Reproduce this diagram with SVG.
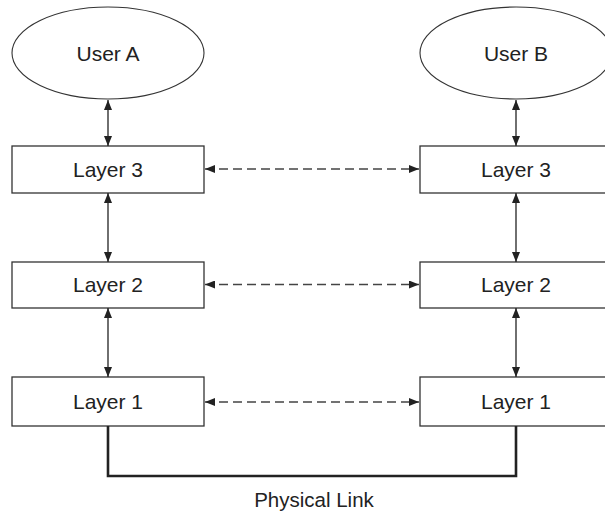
<svg xmlns="http://www.w3.org/2000/svg" width="605" height="513" viewBox="0 0 605 513">
<style>
.box{fill:#fff;stroke:#333;stroke-width:1.3}
.ell{fill:#fff;stroke:#333;stroke-width:1.1}
.lbl{font-family:"Liberation Sans",Arial,sans-serif;font-size:21px;fill:#222;text-anchor:middle}
.solid{stroke:#222;stroke-width:1.3;fill:none}
.dash{stroke:#444;stroke-width:1.4;fill:none;stroke-dasharray:9 5}
.phys{stroke:#222;stroke-width:2.6;fill:none}
</style>
<defs>
<marker id="ah" viewBox="0 0 10 8" refX="10" refY="4" markerWidth="10" markerHeight="8" markerUnits="userSpaceOnUse" orient="auto-start-reverse">
<path d="M0,0 L10,4 L0,8 Z" fill="#222"/>
</marker>
</defs>
<g id="userA"><ellipse class="ell" cx="108" cy="53" rx="96" ry="46"/><text class="lbl" x="108" y="61">User A</text></g>
<g id="userB"><ellipse class="ell" cx="516" cy="53" rx="96" ry="46"/><text class="lbl" x="516" y="61">User B</text></g>
<g id="a3"><rect class="box" x="12" y="146" width="192" height="47"/><text class="lbl" x="108" y="177">Layer 3</text></g>
<g id="b3"><rect class="box" x="420" y="146" width="192" height="47"/><text class="lbl" x="516" y="177">Layer 3</text></g>
<g id="a2"><rect class="box" x="12" y="262" width="192" height="46"/><text class="lbl" x="108" y="292">Layer 2</text></g>
<g id="b2"><rect class="box" x="420" y="262" width="192" height="46"/><text class="lbl" x="516" y="292">Layer 2</text></g>
<g id="a1"><rect class="box" x="12" y="377" width="192" height="49"/><text class="lbl" x="108" y="409">Layer 1</text></g>
<g id="b1"><rect class="box" x="420" y="377" width="192" height="49"/><text class="lbl" x="516" y="409">Layer 1</text></g>
<g id="connectors">
<line class="solid" x1="108" y1="100" x2="108" y2="146" marker-start="url(#ah)" marker-end="url(#ah)"/>
<line class="solid" x1="516" y1="100" x2="516" y2="146" marker-start="url(#ah)" marker-end="url(#ah)"/>
<line class="solid" x1="108" y1="193" x2="108" y2="262" marker-start="url(#ah)" marker-end="url(#ah)"/>
<line class="solid" x1="516" y1="193" x2="516" y2="262" marker-start="url(#ah)" marker-end="url(#ah)"/>
<line class="solid" x1="108" y1="308" x2="108" y2="377" marker-start="url(#ah)" marker-end="url(#ah)"/>
<line class="solid" x1="516" y1="308" x2="516" y2="377" marker-start="url(#ah)" marker-end="url(#ah)"/>
<line class="dash" x1="205" y1="169" x2="419" y2="169" marker-start="url(#ah)" marker-end="url(#ah)"/>
<line class="dash" x1="205" y1="284.5" x2="419" y2="284.5" marker-start="url(#ah)" marker-end="url(#ah)"/>
<line class="dash" x1="205" y1="402" x2="419" y2="402" marker-start="url(#ah)" marker-end="url(#ah)"/>
<path class="phys" d="M108,426 V476 H516 V426"/>
</g>
<text class="lbl" x="314" y="507" style="font-size:20.5px">Physical Link</text>
</svg>
